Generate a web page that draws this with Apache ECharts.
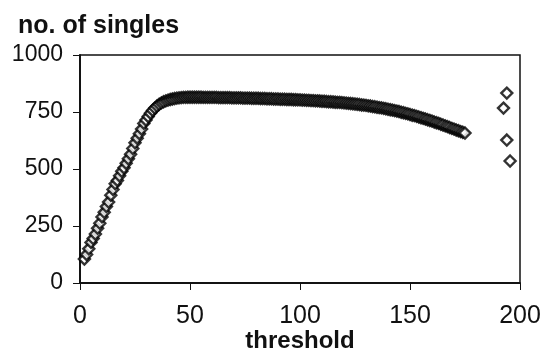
<!DOCTYPE html>
<html>
<head>
<meta charset="utf-8">
<script src="https://cdn.jsdelivr.net/npm/echarts@6/dist/echarts.min.js"></script>
<style>
  html, body { margin: 0; padding: 0; background: #fff; }
  #chart { width: 542px; height: 352px; }
</style>
</head>
<body>
<div id="chart"></div>
<script>
// threshold runs 2..175 in steps of 1
var thresholdStart = 2
var singles = [
  105, 125, 150, 178, 195, 215, 240, 262, 290,
  310, 335, 355, 385, 410, 435, 450, 470, 490, 505,
  525, 545, 565, 590, 615, 635, 655, 675, 700, 715,
  730, 745, 757, 767, 776, 784, 790, 795, 799, 802,
  805, 807, 809, 811, 812, 813, 814, 814, 815, 815,
  815, 815, 815, 815, 815, 814, 814, 814, 814, 814,
  814, 814, 813, 813, 813, 813, 813, 813, 812, 812,
  812, 812, 812, 811, 811, 811, 811, 810, 810, 810,
  810, 809, 809, 809, 808, 808, 808, 807, 807, 807,
  806, 806, 806, 805, 805, 805, 804, 804, 803, 803,
  802, 802, 801, 801, 800, 800, 799, 799, 798, 797,
  797, 796, 795, 795, 794, 793, 792, 792, 791, 790,
  789, 788, 787, 786, 785, 784, 783, 781, 780, 779,
  777, 776, 774, 773, 771, 769, 768, 766, 764, 762,
  760, 758, 756, 754, 752, 749, 747, 744, 742, 739,
  736, 734, 731, 728, 725, 722, 719, 716, 713, 710,
  706, 703, 700, 696, 693, 689, 686, 682, 678, 675,
  671, 668, 664, 661, 658
]
// the four separate points near 195
var outlierX = [194, 192.5, 194, 195.5]
var outlierY = [833, 767, 627, 535]
var xTicks = [0, 50, 100, 150, 200]
var yTicks = [0, 250, 500, 750, 1000]

var font = 'Liberation Sans, Arial, Helvetica, sans-serif'
var ink = '#111'

var points = []
singles.forEach(function (v, i) {
  points.push([thresholdStart + i, v])
})
outlierX.forEach(function (x, i) {
  points.push([x, outlierY[i]])
})

var chart = echarts.init(document.getElementById('chart'))

function xAx (inside, labels) {
  return {
    type: 'value',
    min: xTicks[0],
    max: xTicks[xTicks.length - 1],
    interval: xTicks[1] - xTicks[0],
    name: labels ? 'threshold' : '',
    nameLocation: 'middle',
    nameGap: 46,
    nameMoveOverlap: false,
    nameTextStyle: { color: ink, fontSize: 24, fontWeight: 'bold', fontFamily: font },
    axisLine: { show: true, lineStyle: { color: ink, width: 1.5 } },
    axisTick: { show: true, inside: inside, length: 7, lineStyle: { color: ink, width: 1 } },
    axisLabel: { show: labels, margin: 21, color: ink, fontSize: 25, fontFamily: font },
    splitLine: { show: false }
  }
}

function yAx (inside, labels) {
  return {
    type: 'value',
    min: yTicks[0],
    max: yTicks[yTicks.length - 1],
    interval: yTicks[1] - yTicks[0],
    axisLine: { show: true, lineStyle: { color: ink, width: 1.5 } },
    axisTick: { show: true, inside: inside, length: 7, lineStyle: { color: ink, width: 1 } },
    axisLabel: {
      show: labels,
      margin: 17,
      color: ink,
      fontSize: 23,
      fontFamily: font,
      formatter: function (v) { return String(v) }
    },
    splitLine: { show: false }
  }
}

var option = {
  animation: false,
  backgroundColor: '#fff',
  title: {
    text: 'no. of singles',
    left: 13,
    top: 9,
    textStyle: { color: ink, fontSize: 25, fontWeight: 'bold', fontFamily: font }
  },
  grid: {
    left: 80,
    right: 22,
    top: 55,
    bottom: 69,
    containLabel: false,
    outerBoundsMode: 'none',
    show: true,
    borderColor: ink,
    borderWidth: 1.5
  },
  xAxis: [xAx(false, true), xAx(true, false)],
  yAxis: [yAx(false, true), yAx(true, false)],
  series: [{
    type: 'scatter',
    xAxisIndex: 0,
    yAxisIndex: 0,
    symbol: 'diamond',
    symbolSize: [11, 11],
    data: points,
    itemStyle: { color: '#fff', borderColor: '#000', borderWidth: 2.4 }
  }]
}

chart.setOption(option)
</script>
</body>
</html>
